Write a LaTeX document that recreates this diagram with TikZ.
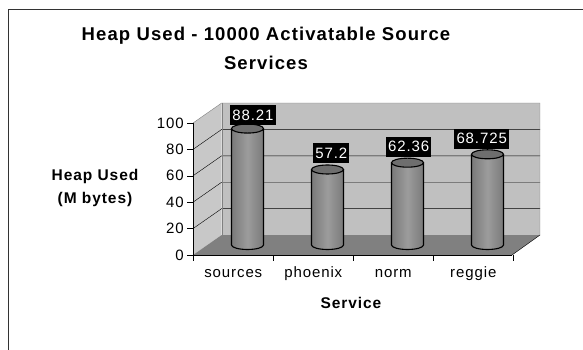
\documentclass[tikz,border=0pt]{standalone}
\usepackage{fontspec}
\setmainfont{Liberation Sans}
\newfontfamily\chartfont[LetterSpace=6]{Liberation Sans}
\usepackage{tikz}

\definecolor{wallgray}{HTML}{C0C0C0}
\definecolor{sidegray}{HTML}{C8C8C8}
\definecolor{floorgray}{HTML}{808080}
\definecolor{bardark}{HTML}{7A7A7A}
\definecolor{barlight}{HTML}{9C9C9C}
\definecolor{topgray}{HTML}{6E6E6E}

\tikzset{
  ticklabel/.style={anchor=east, inner sep=1pt, font=\chartfont\fontsize{15}{17}\selectfont},
  catlabel/.style={font=\chartfont\fontsize{15}{17}\selectfont},
  valuelabel/.style={fill=black, text=white, inner sep=2.2pt, minimum height=20pt,
    font=\chartfont\fontsize{15}{17}\selectfont},
  axistitle/.style={font=\chartfont\bfseries\fontsize{15.5}{22.6}\selectfont, align=center},
  cylbody/.style={left color=bardark, right color=bardark, middle color=barlight},
}

\begin{document}
\begin{tikzpicture}[x=1pt,y=-1pt]
  \useasboundingbox (0,0) rectangle (583,350);
  \fill[white] (0,0) rectangle (583,350);

  % chart area frame
  \draw[line width=1pt, black!80] (8,350) -- (8,10) -- (583,10);

  \node[font=\chartfont\bfseries\fontsize{18.5}{29}\selectfont, align=center]
    (title) at (266,48.5) {Heap Used - 10000 Activatable Source\\Services};

  % walls and floor
  \fill[sidegray] (193,123) -- (221.7,103) -- (221.7,235) -- (193,255) -- cycle;
  \fill[wallgray] (221.7,103) rectangle (540,235);
  \fill[floorgray] (193,255) -- (221.7,235) -- (540,235) -- (512,255) -- cycle;

  \foreach \v in {20,40,60,80} {
    \pgfmathsetmacro\fy{255-1.32*\v}
    \pgfmathsetmacro\by{235-1.32*\v}
    \draw (193,\fy) -- (221.7,\by) -- (540,\by);
  }
  \draw[floorgray] (193,123) -- (221.7,103) -- (540,103) -- (540,235);
  \draw[floorgray] (221.7,103) -- (221.7,235);
  \draw (512,255) -- (540,235);

  % axes
  \draw (193,123) -- (193,255) -- (512,255);
  \foreach \v in {0,20,...,100} {
    \pgfmathsetmacro\fy{255-1.32*\v}
    \draw (187,\fy) -- (193,\fy);
    \node[ticklabel] (tick-\v) at (185,\fy) {\v};
  }
  \foreach \x in {193.3,273.3,353.3,432.7,512.7}
    \draw (\x,255) -- (\x,261);

  % cylinders
  \foreach \cx/\v in {247.5/88.21, 327.5/57.2, 407.5/62.36, 487.5/68.725} {
    \pgfmathsetmacro\ty{245-1.32*\v}
    \path[cylbody] (\cx-16,\ty) -- (\cx-16,245)
      arc[start angle=180, end angle=360, x radius=16pt, y radius=4.5pt]
      -- (\cx+16,\ty) -- cycle;
    \draw[line width=1.1pt] (\cx-16,\ty) -- (\cx-16,245)
      arc[start angle=180, end angle=360, x radius=16pt, y radius=4.5pt]
      -- (\cx+16,\ty);
    \filldraw[fill=topgray, line width=1.1pt] (\cx,\ty)
      ellipse[x radius=16pt, y radius=4.5pt];
  }

  % data labels
  \node[valuelabel] (val-sources) at (253,115) {88.21};
  \node[valuelabel] (val-phoenix) at (331.3,153) {57.2};
  \node[valuelabel] (val-norm) at (408.7,146.7) {62.36};
  \node[valuelabel] (val-reggie) at (481.7,138.8) {68.725};

  % category names
  \node[catlabel] (cat-sources) at (233.3,273.3) {sources};
  \node[catlabel] (cat-phoenix) at (313.3,273.3) {phoenix};
  \node[catlabel] (cat-norm) at (393.3,273.3) {norm};
  \node[catlabel] (cat-reggie) at (473.3,273.3) {reggie};

  % axis titles
  \node[axistitle] (ytitle) at (95,188) {Heap Used\\(M bytes)};
  \node[axistitle] (xtitle) at (351,303) {Service};
\end{tikzpicture}
\end{document}
